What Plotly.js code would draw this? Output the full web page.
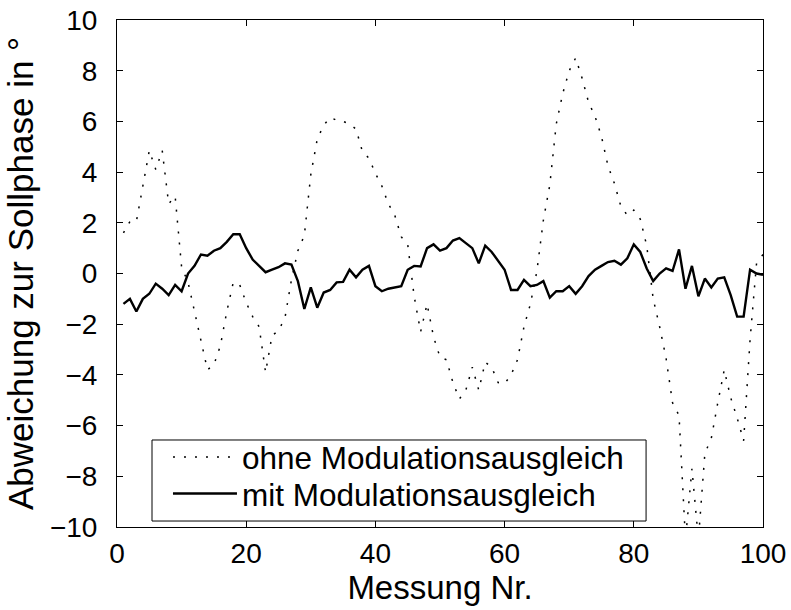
<!DOCTYPE html>
<html>
<head>
<meta charset="utf-8">
<script src="https://cdn.plot.ly/plotly-3.0.1.min.js"></script>
<style>html,body{margin:0;padding:0;background:#fff;}#chart{width:791px;height:610px;}</style>
</head>
<body>
<div id="chart"></div>
<script>
// Messung Nr. 1..100
const messung = [1,2,3,4,5,6,7,8,9,10,11,12,13,14,15,16,17,18,19,20,21,22,23,24,25,26,27,28,29,30,31,32,33,34,35,36,37,38,39,40,41,42,43,44,45,46,47,48,49,50,51,52,53,54,55,56,57,58,59,60,61,62,63,64,65,66,67,68,69,70,71,72,73,74,75,76,77,78,79,80,81,82,83,84,85,86,87,88,89,90,91,92,93,94,95,96,97,98,99,100];

// ohne Modulationsausgleich (dotted)
const ohne = [1.6,2.05,2.05,3.45,4.85,4.1,4.85,2.75,3.05,0.25,
  -0.35,-1.5,-2.7,-3.8,-3.6,-2.85,-1.5,-0.35,-0.45,-1.15,
  -1.7,-2.1,-3.9,-2.45,-2.25,-1.75,-0.25,0.9,1.5,3.9,
  5.3,5.85,6.15,6.05,6.0,5.9,5.7,4.8,4.55,3.95,
  3.45,2.75,2.3,1.45,1.15,-0.9,-2.3,-1.2,-2.5,-3.3,
  -3.4,-4.3,-4.95,-4.6,-3.7,-4.6,-3.5,-3.7,-4.3,-4.35,
  -4.0,-3.4,-2.1,-1.2,0.1,2.1,3.5,5.9,7.1,8.0,
  8.5,7.7,6.75,6.2,5.4,4.25,3.55,2.65,2.3,2.5,
  2.15,1.1,-1.0,-2.1,-3.35,-5.1,-5.6,-10.5,-7.7,-10.5,
  -7.1,-6.5,-5.1,-3.8,-4.9,-5.7,-6.6,-2.6,0.4,0.75];

// mit Modulationsausgleich (solid)
const mit = [-1.2,-1.0,-1.5,-1.0,-0.8,-0.4,-0.6,-0.85,-0.45,-0.7,
  0.0,0.3,0.75,0.7,0.9,1.0,1.25,1.55,1.55,1.0,
  0.55,0.3,0.05,0.15,0.25,0.4,0.35,-0.3,-1.4,-0.55,
  -1.35,-0.75,-0.65,-0.35,-0.33,0.15,-0.15,0.15,0.3,-0.5,
  -0.7,-0.6,-0.55,-0.5,0.15,0.3,0.28,1.0,1.15,0.9,
  1.0,1.3,1.4,1.2,1.0,0.4,1.1,0.85,0.5,0.15,
  -0.65,-0.65,-0.25,-0.5,-0.45,-0.3,-0.95,-0.7,-0.7,-0.5,
  -0.8,-0.5,-0.1,0.15,0.3,0.45,0.5,0.35,0.6,1.15,
  0.85,0.2,-0.3,0.0,0.2,0.1,0.95,-0.6,0.3,-0.9,
  -0.2,-0.55,-0.2,-0.15,-0.85,-1.7,-1.7,0.15,0.0,-0.05];

const xTicks = [0,20,40,60,80,100];
const yTicks = [-10,-8,-6,-4,-2,0,2,4,6,8,10];
const seriesNames = ['ohne Modulationsausgleich','mit Modulationsausgleich'];

const FONT = 'Liberation Sans, Arial, Helvetica, sans-serif';
const LEGEND_FONT = {family: FONT, size: 31.5, color: '#000'};

const traces = [
  {x: messung, y: ohne, type: 'scatter', mode: 'lines', name: seriesNames[0], legend: 'legend',
   line: {color: '#000', width: 1.5, dash: '2px,9px'}},
  {x: messung, y: mit, type: 'scatter', mode: 'lines', name: seriesNames[1], legend: 'legend2',
   line: {color: '#000', width: 2.4}}
];

const axisCommon = {
  showgrid: false, zeroline: false, showline: true, linecolor: '#000', linewidth: 1,
  mirror: 'ticks', ticks: 'inside', ticklen: 6, tickwidth: 1, tickcolor: '#000',
  tickfont: {family: FONT, size: 28, color: '#000'}
};

const legendCommon = {xanchor: 'left', yanchor: 'middle', bgcolor: 'rgba(0,0,0,0)',
  borderwidth: 0, font: LEGEND_FONT, itemwidth: 64};

const layout = {
  width: 791, height: 610,
  margin: {l: 117, r: 28, t: 20, b: 83},
  paper_bgcolor: '#fff', plot_bgcolor: '#fff',
  font: {family: FONT, color: '#000'},
  showlegend: true,
  legend: Object.assign({}, legendCommon, {x: 0.0789, y: 0.138}),
  legend2: Object.assign({}, legendCommon, {x: 0.0789, y: 0.0661}),
  shapes: [{type: 'rect', xref: 'paper', yref: 'paper', x0: 0.0542, x1: 0.819, y0: 0.0118, y1: 0.1716,
    line: {color: '#000', width: 1}, fillcolor: '#fff', layer: 'above'}],
  xaxis: Object.assign({}, axisCommon, {range: [0, 100], tickvals: xTicks, ticklabelstandoff: 1,
    title: {text: 'Messung Nr.', font: {family: FONT, size: 33, color: '#000'}, standoff: 0}}),
  yaxis: Object.assign({}, axisCommon, {range: [-10, 10], tickvals: yTicks, ticklabelstandoff: 13,
    title: {text: 'Abweichung zur Sollphase in °', font: {family: FONT, size: 35, color: '#000'}, standoff: 5}})
};

Plotly.newPlot('chart', traces, layout, {displayModeBar: false, staticPlot: true});
</script>
</body>
</html>
